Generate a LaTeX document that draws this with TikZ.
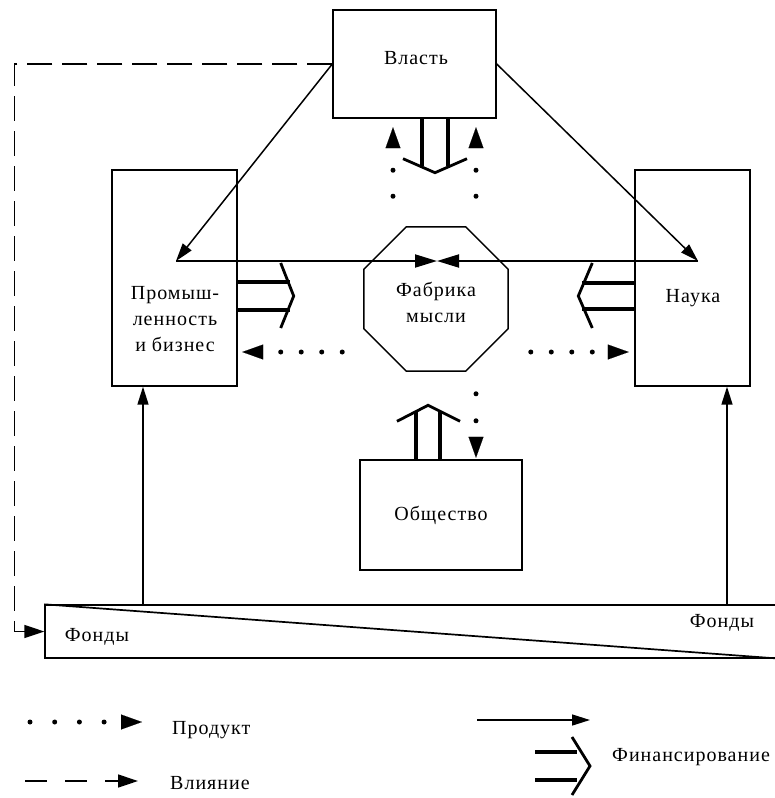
\documentclass[tikz,border=0pt]{standalone}
\usepackage{fontspec}
\setmainfont{Liberation Serif}[LetterSpace=5]
\usetikzlibrary{shapes.geometric, arrows.meta, positioning, calc}
\tikzset{
  sc/box/.style={rectangle, draw, line width=1.4pt, inner sep=0pt},
  sc/oct/.style={regular polygon, regular polygon sides=8, draw,
    line width=1.4pt, inner sep=0pt, minimum size=156pt},
  sc/txt/.style={font=\fontsize{20}{26}\selectfont, align=center, inner sep=0pt},
  sc/arr/.style={-{Triangle[length=18pt,width=11pt]}, line width=1.5pt},
  sc/meet/.style={-{Triangle[length=22pt,width=13pt]}, line width=1.9pt},
  sc/prod/.style={line width=5pt, line cap=round,
    -{Triangle[length=21pt,width=15pt,line width=0.1pt]}},
  sc/dots2/.style={dash pattern=on 0pt off #1 on 0pt off 200pt},
  sc/dots4/.style={dash pattern=on 0pt off #1 on 0pt off #1 on 0pt off #1 on 0pt off 200pt},
  sc/infl/.style={dash pattern=on 25pt off 10pt, line width=1.4pt,
    -{Triangle[length=20pt,width=13pt]}},
  sc/finbar/.style={line width=4.8pt},
  sc/finhead/.style={line width=2.8pt, line join=miter}
}
\begin{document}
\begin{tikzpicture}[x=1pt, y=-1pt]
  \useasboundingbox (0,0) rectangle (774,798);

  % blocks
  \node[sc/box, minimum width=163pt, minimum height=108pt] (power) at (414.5,64) {};
  \node[sc/box, minimum width=125pt, minimum height=216pt] (ind) at (174.5,278) {};
  \node[sc/box, minimum width=115pt, minimum height=216pt] (sci) at (692.5,278) {};
  \node[sc/box, minimum width=162pt, minimum height=110pt] (soc) at (441,515) {};
  \node[sc/oct] (think) at (436,299) {};
  \node[sc/box, minimum width=735pt, minimum height=53pt] (fund) at (412.5,631.5) {};
  \draw[line width=1.7pt] (fund.north west) -- (fund.south east);

  % texts
  \node[sc/txt] (powertxt) at (416,58) {Власть};
  \node[sc/txt] (indtxt) at (175,319) {Промыш-\\ленность\\и бизнес};
  \node[sc/txt] (scitxt) at (693,298) {Наука};
  \node[sc/txt] (thinktxt) at (436,302) {Фабрика\\мысли};
  \node[sc/txt] (soctxt) at (441,515) {Общество};
  \node[sc/txt] (fundl) at (97,637) {Фонды};
  \node[sc/txt] (fundr) at (722,623) {Фонды};

  % financing flows
  \coordinate (indpt) at (176,261);
  \coordinate (scipt) at (698,261);
  \coordinate (meet) at (437,261);
  \draw[sc/arr] (power.west) -- (indpt);
  \draw[sc/arr] (power.east) -- (scipt);
  \draw[sc/meet] (indpt) -- (meet);
  \draw[sc/meet] (scipt) -- (meet);
  \coordinate (lfoot) at (143,605);
  \coordinate (rfoot) at (727,605);
  \draw[sc/arr] (lfoot) -- (lfoot |- ind.south);
  \draw[sc/arr] (rfoot) -- (rfoot |- sci.south);

  % influence
  \draw[sc/infl] (power.west) -| ([xshift=-30pt]fund.west) -- (fund.west);

  % double arrows
  \draw[sc/finbar] ($(ind.east)+(0,4)$) -- ++(52,0);
  \draw[sc/finbar] ($(ind.east)+(0,32)$) -- ++(52,0);
  \draw[sc/finhead] ($(ind.east)+(43,-15)$) -- ++(13,33) -- ++(-13,32);
  \draw[sc/finbar] ($(sci.west)+(0,5)$) -- ++(-52,0);
  \draw[sc/finbar] ($(sci.west)+(0,31)$) -- ++(-52,0);
  \draw[sc/finhead] ($(sci.west)+(-42,-15)$) -- ++(-14,33) -- ++(14,32);
  \draw[sc/finbar] ($(power.south)+(7.5,0)$) -- ++(0,47);
  \draw[sc/finbar] ($(power.south)+(33.5,0)$) -- ++(0,47);
  \draw[sc/finhead] ($(power.south)+(-11.5,40)$) -- ++(32,14) -- ++(32,-14);
  \draw[sc/finbar] ($(soc.north)+(-25,0)$) -- ++(0,-47);
  \draw[sc/finbar] ($(soc.north)+(-1,0)$) -- ++(0,-47);
  \draw[sc/finhead] ($(soc.north)+(-44,-38)$) -- ++(31,-16) -- ++(32,16);

  % product
  \draw[sc/prod, sc/dots2=26pt] ($(think.north)+(-43,-30)$) -- ++(0,-69);
  \draw[sc/prod, sc/dots2=26pt] ($(think.north)+(40,-30)$) -- ++(0,-69);
  \draw[sc/prod, sc/dots4=20.5pt] ($(think.west)+(-21,53)$) -- ++(-100,0);
  \draw[sc/prod, sc/dots4=20.5pt] ($(think.east)+(22,53)$) -- ++(98,0);
  \draw[sc/prod, sc/dots2=27pt] ($(think.south)+(40,22)$) -- ++(0,64);

  % legend
  \coordinate (lgprod) at (30,722);
  \coordinate (lginfl) at (25,781);
  \coordinate (lgfin) at (477,720);
  \draw[sc/prod, sc/dots4=24.7pt] (lgprod) -- ++(112,0);
  \node[sc/txt, anchor=west] (lgprodtxt) at (172,730) {Продукт};
  \draw[sc/infl, dash pattern=on 22pt off 18pt] (lginfl) -- ++(113,0);
  \node[sc/txt, anchor=west] (lginfltxt) at (170,783) {Влияние};
  \draw[sc/arr] (lgfin) -- ++(113,0);
  \draw[sc/finbar] ($(lgfin)+(58,32)$) -- ++(42,0);
  \draw[sc/finbar] ($(lgfin)+(58,60)$) -- ++(42,0);
  \draw[sc/finhead] ($(lgfin)+(95,17)$) -- ++(18,29) -- ++(-18,29);
  \node[sc/txt, anchor=west] (lgfintxt) at (612,757) {Финансирование};
\end{tikzpicture}
\end{document}
